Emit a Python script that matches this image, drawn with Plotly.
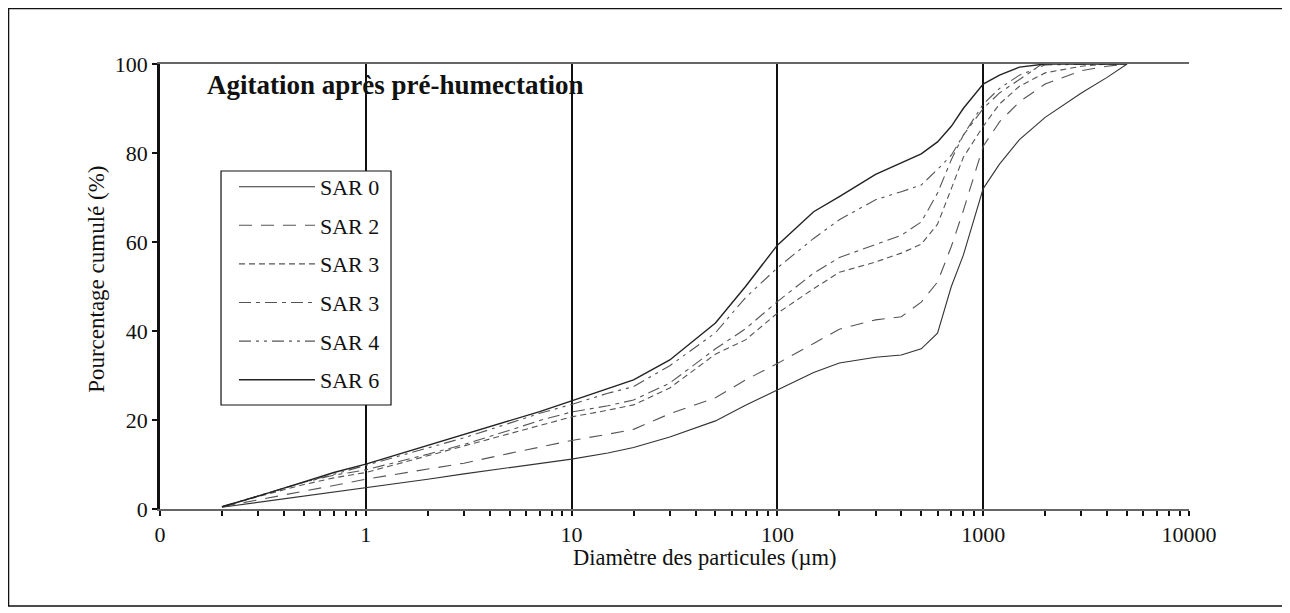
import plotly.graph_objects as go

# Particle diameters (µm)
diameters = [0.2, 0.3, 0.5, 0.7, 1, 2, 3, 5, 7, 10, 15, 20, 30, 50, 70, 100, 150, 200,
             300, 400, 500, 600, 700, 800, 1000, 1200, 1500, 2000, 3000, 4000, 5000]

# Cumulative percentage for each series
sar0 = [0.4, 1.5, 2.8, 3.8, 4.7, 6.7, 7.9, 9.3, 10.3, 11.2, 12.6, 13.8, 16.2, 19.8, 23.3, 26.7,
        30.7, 32.8, 34.1, 34.6, 36.0, 39.5, 50.0, 57.0, 72.0, 77.5, 83.0, 88.0, 93.5, 97.0, 100]
sar2 = [0.5, 2.0, 4.0, 5.3, 6.7, 9.0, 10.3, 12.5, 13.9, 15.4, 16.8, 17.9, 21.4, 25.0, 29.0, 32.7,
        37.2, 40.4, 42.5, 43.2, 46.5, 51.0, 59.0, 67.0, 81.5, 87.0, 91.5, 95.5, 98.5, 99.5, 100]
sar3a = [0.5, 2.8, 5.5, 7.0, 8.2, 12.0, 14.2, 16.9, 18.8, 20.7, 22.2, 23.4, 27.2, 34.8, 38.0, 44.0,
         49.5, 53.2, 55.5, 57.5, 59.5, 64.0, 72.0, 79.0, 86.0, 91.0, 95.0, 98.0, 99.5, 100, 100]
sar3b = [0.5, 3.0, 6.0, 7.6, 8.8, 12.3, 14.5, 17.7, 19.9, 21.8, 23.2, 24.5, 28.3, 36.0, 40.5, 46.6,
         53.0, 56.5, 59.5, 61.5, 64.5, 71.0, 78.5, 84.0, 90.0, 93.5, 96.5, 100.5, 100.8, 100.2, 100]
sar4 = [0.5, 3.0, 6.0, 7.8, 9.8, 13.8, 16.0, 19.3, 21.5, 23.5, 26.0, 27.5, 32.2, 39.6, 47.5, 54.2,
        60.8, 65.0, 69.5, 71.3, 72.8, 76.3, 79.5, 84.0, 91.0, 94.5, 97.5, 99.8, 100, 100, 100]
sar6 = [0.5, 2.9, 6.1, 8.2, 10.1, 14.3, 16.8, 19.9, 21.9, 24.3, 27.0, 29.0, 33.5, 41.8, 50.0, 59.3,
        66.8, 70.2, 75.2, 77.7, 79.8, 82.5, 86.0, 90.0, 95.5, 97.5, 99.3, 100, 100, 100, 100]

series_names = ["SAR 0", "SAR 2", "SAR 3", "SAR 3", "SAR 4", "SAR 6"]
series_values = [sar0, sar2, sar3a, sar3b, sar4, sar6]
dashes = ["solid", "13px,9px", "6px,4px", "12px,5px,4px,5px", "12px,5px,3px,5px,3px,5px", "solid"]
colors = ["#333333", "#555555", "#555555", "#555555", "#555555", "#222222"]
widths = [1.1, 1.1, 1.1, 1.1, 1.1, 1.4]

x_tickvals = [0.1, 1, 10, 100, 1000, 10000]
x_ticktext = ["0", "1", "10", "100", "1000", "10000"]
y_tickvals = [0, 20, 40, 60, 80, 100]

minor_vals = [m * 10 ** e for e in range(-1, 4) for m in range(2, 10)]

FONT = "Liberation Serif"

fig = go.Figure()
for i, (name, vals) in enumerate(zip(series_names, series_values)):
    fig.add_trace(go.Scatter(
        x=diameters, y=vals, mode="lines", name=name,
        legendgroup=f"g{i}",
        line=dict(color=colors[i], width=widths[i], dash=dashes[i]),
    ))

fig.update_layout(
    width=1282, height=605,
    margin=dict(l=152, r=101, t=56, b=104),
    paper_bgcolor="white", plot_bgcolor="white",
    font=dict(family=FONT, size=22, color="#111"),
    showlegend=True,
    legend=dict(
        x=0.0719, y=0.771, xanchor="left", yanchor="top",
        borderwidth=0, bgcolor="rgba(0,0,0,0)",
        font=dict(family=FONT, size=22, color="#111"),
        tracegroupgap=7, traceorder="grouped", itemwidth=76,
    ),
    xaxis=dict(
        type="log", range=[-1, 4],
        tickmode="array", tickvals=x_tickvals, ticktext=x_ticktext,
        showgrid=True, gridcolor="#111", gridwidth=2,
        showline=True, linecolor="#666", linewidth=1.5, mirror=True,
        ticks="outside", ticklen=5, tickcolor="#111", tickwidth=1.5,
        minor=dict(tickmode="array", tickvals=minor_vals, ticks="outside",
                   ticklen=5, tickcolor="#111", tickwidth=1.5, showgrid=False),
        zeroline=False,
        tickfont=dict(family=FONT, size=22),
    ),
    yaxis=dict(
        range=[0, 100], tickmode="array", tickvals=y_tickvals,
        showgrid=False, zeroline=False,
        showline=True, linecolor="#111", linewidth=2.5,
        ticks="outside", ticklen=5, tickcolor="#111", tickwidth=1.5,
        tickfont=dict(family=FONT, size=22),
    ),
    annotations=[
        dict(text="<b>Agitation après pré-humectation</b>", xref="paper", yref="paper",
             x=0.0437, y=0.953, xanchor="left", yanchor="middle", showarrow=False,
             font=dict(family=FONT, size=27, color="#111")),
        dict(text="Pourcentage cumulé (%)", xref="paper", yref="paper",
             x=-0.0612, y=0.515, xanchor="center", yanchor="middle", textangle=-90,
             showarrow=False, font=dict(family=FONT, size=23, color="#111")),
        dict(text="Diamètre des particules (µm)", xref="paper", yref="paper",
             x=0.5297, y=-0.110, xanchor="center", yanchor="middle",
             showarrow=False, font=dict(family=FONT, size=22.5, color="#111")),
    ],
    shapes=[
        # outer frame
        dict(type="rect", xref="paper", yref="paper",
             x0=-0.1472, x1=1.0913, y0=-0.218, y1=1.1247,
             line=dict(color="#111", width=1.5), fillcolor="rgba(0,0,0,0)", layer="below"),
        # legend frame
        dict(type="rect", xref="paper", yref="paper",
             x0=0.0593, x1=0.2245, y0=0.2337, y1=0.7596,
             line=dict(color="#111", width=1.2), fillcolor="white", layer="above"),
    ],
)

fig.write_html("out.html")
